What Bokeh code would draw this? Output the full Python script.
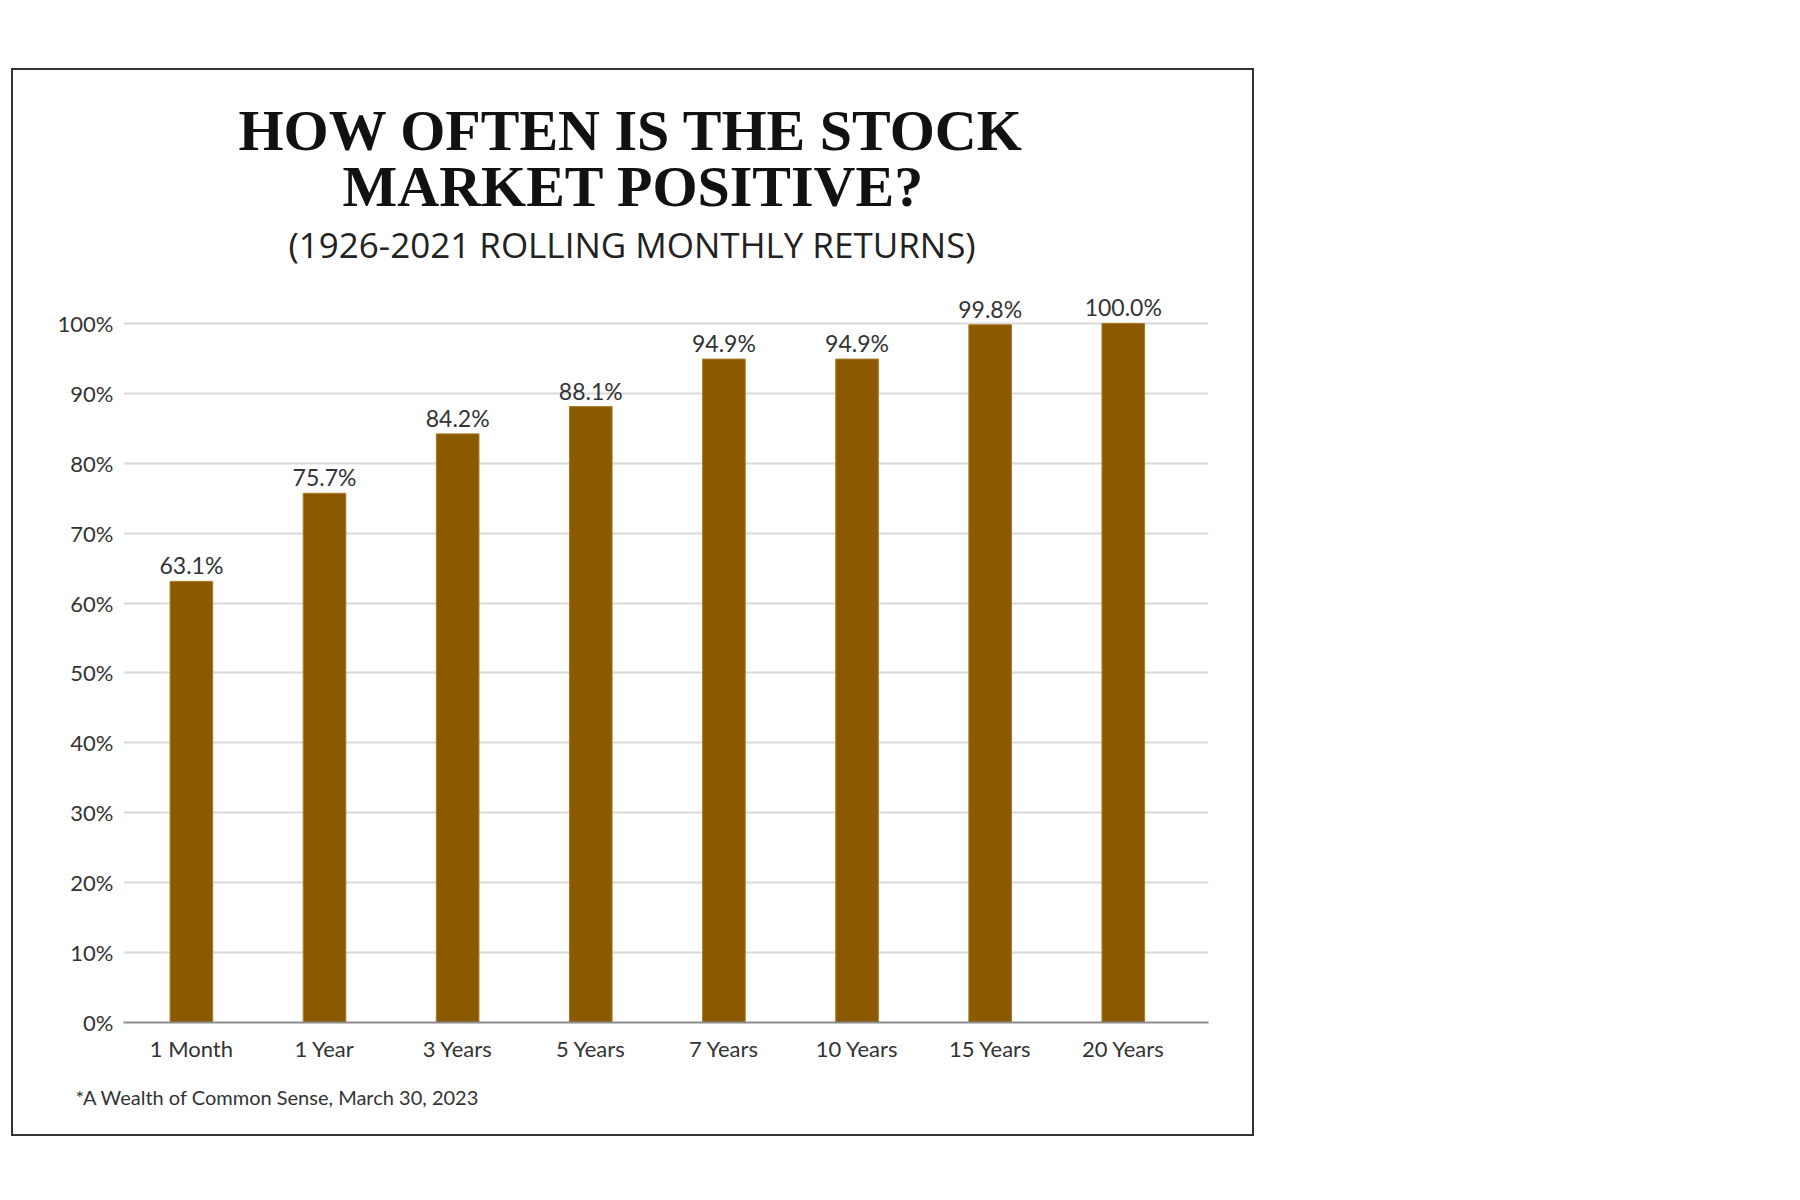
from bokeh.plotting import figure
from bokeh.models import ColumnDataSource, LabelSet, Range1d, FixedTicker, Title, InlineStyleSheet
from bokeh.core.properties import value
from bokeh.embed import file_html
from bokeh.resources import INLINE

# ---- data ----
categories = ["1 Month", "1 Year", "3 Years", "5 Years", "7 Years", "10 Years", "15 Years", "20 Years"]
values = [63.1, 75.7, 84.2, 88.1, 94.9, 94.9, 99.8, 100.0]
value_labels = ["63.1%", "75.7%", "84.2%", "88.1%", "94.9%", "94.9%", "99.8%", "100.0%"]
y_ticks = [0, 10, 20, 30, 40, 50, 60, 70, 80, 90, 100]
y_tick_labels = ["0%", "10%", "20%", "30%", "40%", "50%", "60%", "70%", "80%", "90%", "100%"]
title_lines = ["HOW OFTEN IS THE STOCK", "MARKET POSITIVE?"]
subtitle = "(1926-2021 ROLLING MONTHLY RETURNS)"
footnote = "*A Wealth of Common Sense, March 30, 2023"

positions = list(range(len(categories)))
source = ColumnDataSource(dict(x=positions, top=values, label=value_labels))

W, H = 1243, 1068
FL, FR, FT, FB = 110, 1195, 197, 952  # frame box on canvas

p = figure(width=W, height=H, output_backend="svg", toolbar_location=None,
           x_range=Range1d(-0.51, 7.64), y_range=Range1d(0, 108),
           min_border_left=FL, min_border_right=W - FR,
           min_border_top=FT, min_border_bottom=H - FB)
p.stylesheets = [InlineStyleSheet(css=":host { border: 2.5px solid #333333; margin-top: 68px; margin-left: 11px; }")]
p.outline_line_color = None
p.background_fill_color = "white"
p.border_fill_color = "white"

p.vbar(x="x", top="top", width=0.32, source=source,
       fill_color="#8B5A00", line_color="#A87A1E", line_width=1)

font = "Lato"
p.add_layout(LabelSet(x="x", y="top", text="label", source=source,
                      text_align="center", text_baseline="bottom", y_offset=2,
                      text_font=value(font), text_font_size="23px", text_color="#333333"))

# axes
p.xaxis.ticker = FixedTicker(ticks=positions)
p.xaxis.major_label_overrides = {i: c for i, c in zip(positions, categories)}
p.xaxis.axis_line_color = "#8c8c8c"
p.xaxis.axis_line_width = 2
p.xaxis.major_tick_line_color = None
p.xaxis.minor_tick_line_color = None
p.xaxis.major_label_standoff = 6
p.xaxis.major_label_text_font = font
p.xaxis.major_label_text_font_size = "22px"
p.xaxis.major_label_text_color = "#333333"

p.yaxis.ticker = FixedTicker(ticks=y_ticks)
p.yaxis.major_label_overrides = {t: l for t, l in zip(y_ticks, y_tick_labels)}
p.yaxis.axis_line_color = None
p.yaxis.major_tick_line_color = None
p.yaxis.minor_tick_line_color = None
p.yaxis.major_label_standoff = 4
p.yaxis.major_label_text_font = font
p.yaxis.major_label_text_font_size = "22px"
p.yaxis.major_label_text_color = "#333333"

p.xgrid.grid_line_color = None
p.ygrid.ticker = FixedTicker(ticks=y_ticks)
p.ygrid.grid_line_color = "#d9d9d9"
p.ygrid.grid_line_width = 2

# titles: added from the frame outward (offsets from the frame's left edge)
p.add_layout(Title(text=subtitle, align="left", offset=165, standoff=0,
                   text_font="Open Sans", text_font_style="normal",
                   text_font_size="35px", text_color="#222222"), "above")
p.add_layout(Title(text=title_lines[1], align="left", offset=219, standoff=0,
                   text_font="Liberation Serif", text_font_style="bold",
                   text_font_size="58px", text_color="#111111"), "above")
p.add_layout(Title(text=title_lines[0], align="left", offset=115, standoff=-22,
                   text_font="Liberation Serif", text_font_style="bold",
                   text_font_size="58px", text_color="#111111"), "above")

p.add_layout(Title(text=footnote, align="left", offset=-48, standoff=36,
                   text_font=font, text_font_style="normal",
                   text_font_size="20px", text_color="#333333"), "below")

open("out.html", "w").write(file_html(p, INLINE))
